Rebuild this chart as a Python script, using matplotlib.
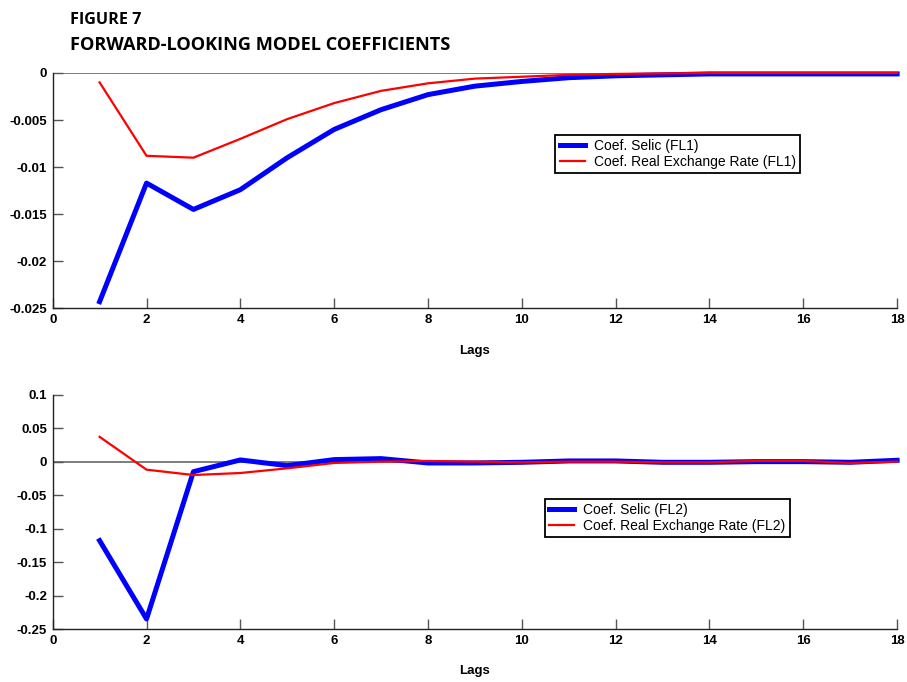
import matplotlib
matplotlib.use('Agg')
import matplotlib.pyplot as plt

plt.rcParams['font.family'] = ['Liberation Sans', 'DejaVu Sans']

# Dados (lags e coeficientes)
lags = list(range(1, 19))

selic_fl1 = [-0.0243, -0.0117, -0.0145, -0.0124, -0.0090, -0.0060, -0.0039, -0.0023, -0.0014,
             -0.0009, -0.0005, -0.0003, -0.0002, -0.0001, -0.0001, -0.0001, -0.0001, -0.0001]
cambio_fl1 = [-0.0010, -0.0088, -0.0090, -0.0070, -0.0049, -0.0032, -0.0019, -0.0011, -0.0006,
              -0.0004, -0.0002, -0.0001, -0.00005, 0.0, 0.0, 0.0, 0.0, 0.0]

selic_fl2 = [-0.118, -0.235, -0.015, 0.0025, -0.006, 0.003, 0.0045, -0.002, -0.002,
             -0.001, 0.001, 0.001, -0.001, -0.001, 0.0, 0.0, -0.001, 0.002]
cambio_fl2 = [0.037, -0.012, -0.020, -0.017, -0.010, -0.002, 0.0, 0.001, 0.0,
              -0.001, 0.0, 0.0, -0.001, -0.001, 0.001, 0.001, -0.002, 0.0]

xticks = list(range(0, 19, 2))
yticks_fl1 = [0, -0.005, -0.01, -0.015, -0.02, -0.025]
ylabels_fl1 = ['0', '-0.005', '-0.01', '-0.015', '-0.02', '-0.025']
yticks_fl2 = [0.1, 0.05, 0, -0.05, -0.1, -0.15, -0.2, -0.25]
ylabels_fl2 = ['0.1', '0.05', '0', '-0.05', '-0.1', '-0.15', '-0.2', '-0.25']

fig = plt.figure(figsize=(9.07, 6.82), dpi=100)

fig.text(0.077, 0.983, 'FIGURE 7', fontsize=11.6, fontweight='bold', va='top',
         family=['Open Sans', 'DejaVu Sans'])
fig.text(0.077, 0.947, 'FORWARD-LOOKING MODEL COEFFICIENTS', fontsize=13.1, fontweight='bold',
         va='top', family=['Open Sans', 'DejaVu Sans'])

ax1 = fig.add_axes([0.0581, 0.548, 0.931, 0.345])
ax2 = fig.add_axes([0.0581, 0.0777, 0.931, 0.3436])


def estilo(ax, yt, yl, ylim):
    ax.axhline(0, color='#666666', lw=1.2, zorder=1)
    ax.set_xlim(0, 18)
    ax.set_ylim(*ylim)
    ax.set_xticks(xticks)
    ax.set_xticklabels([str(t) for t in xticks])
    ax.set_yticks(yt)
    ax.set_yticklabels(yl)
    for s in ['top', 'right']:
        ax.spines[s].set_visible(False)
    for s in ['left', 'bottom']:
        ax.spines[s].set_linewidth(1.0)
        ax.spines[s].set_color('#222222')
    ax.tick_params(direction='in', length=7, width=1, color='#555555',
                   labelsize=9.5, pad=4)
    for lab in ax.get_xticklabels() + ax.get_yticklabels():
        lab.set_fontweight('bold')
    ax.set_xlabel('Lags', fontsize=9.5, fontweight='bold')
    ax.xaxis.set_label_coords(0.5, -0.18)
    ax.xaxis.label.set_va('center')


def legenda(ax, anchor):
    leg = ax.legend(loc='center', bbox_to_anchor=anchor, fontsize=10, fancybox=False,
                    framealpha=1, edgecolor='black', borderpad=0.3, handlelength=1.8,
                    handletextpad=0.65, labelspacing=0.12, borderaxespad=0)
    leg.get_frame().set_linewidth(1.3)


estilo(ax1, yticks_fl1, ylabels_fl1, (-0.025, 0))
ax1.plot(lags, selic_fl1, color='#0000ff', lw=3.6, label='Coef. Selic (FL1)', zorder=2,
         clip_on=False)
ax1.plot(lags, cambio_fl1, color='#ff0000', lw=1.6, label='Coef. Real Exchange Rate (FL1)',
         zorder=3, clip_on=False)
legenda(ax1, (0.74, 0.655))

estilo(ax2, yticks_fl2, ylabels_fl2, (-0.25, 0.1))
ax2.plot(lags, selic_fl2, color='#0000ff', lw=3.6, label='Coef. Selic (FL2)', zorder=2,
         clip_on=False)
ax2.plot(lags, cambio_fl2, color='#ff0000', lw=1.6, label='Coef. Real Exchange Rate (FL2)',
         zorder=3, clip_on=False)
legenda(ax2, (0.728, 0.474))

fig.savefig('out.png', dpi=100)
